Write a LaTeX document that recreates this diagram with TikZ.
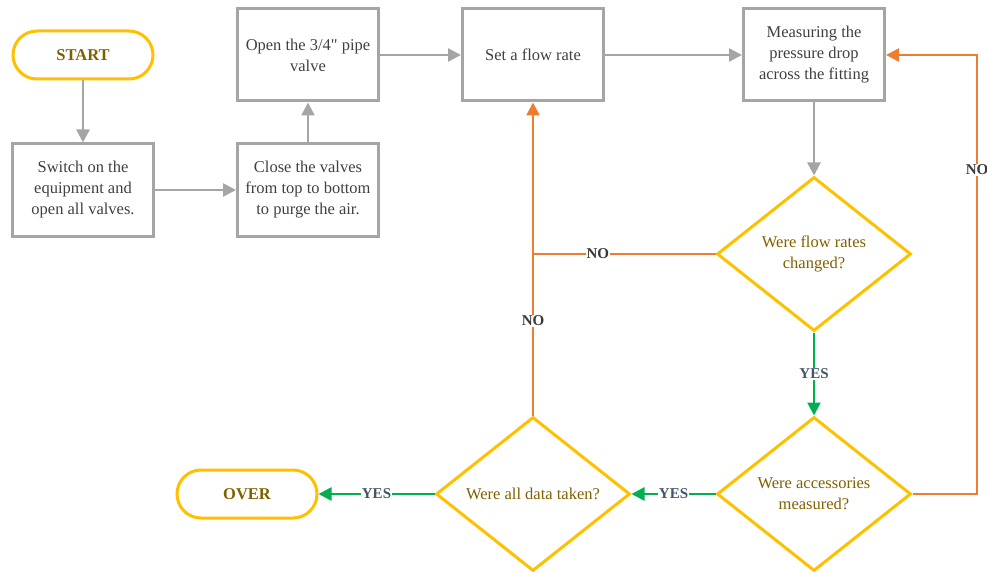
\documentclass[tikz,border=0pt]{standalone}
\usepackage{fontspec}
\setmainfont{Liberation Serif}
\newfontfamily\plainq{Liberation Serif}
\usetikzlibrary{shapes.geometric,arrows.meta}
\definecolor{boxgray}{HTML}{A5A5A5}
\definecolor{gold}{HTML}{FFC000}
\definecolor{orng}{HTML}{ED7D31}
\definecolor{grn}{HTML}{00B050}
\definecolor{boxtext}{HTML}{404040}
\definecolor{dtext}{HTML}{7F6000}
\definecolor{notext}{HTML}{3B3838}
\definecolor{yestext}{HTML}{44546A}
\tikzset{
  procbox/.style={draw=boxgray, line width=3pt, minimum width=141pt, minimum height=92pt,
    align=center, text=boxtext, font=\fontsize{16.5}{21}\selectfont, inner sep=2pt},
  termbox/.style={draw=gold, line width=3pt, minimum width=140pt, minimum height=48pt,
    rounded corners=24pt, text=dtext, font=\fontsize{16.5}{18}\selectfont\bfseries},
  decbox/.style={diamond, draw=gold, line width=3pt, minimum width=194pt, minimum height=154pt,
    inner sep=0pt, align=center, text=dtext, font=\fontsize{16.5}{21}\selectfont},
  arr/.style={-{Triangle[length=13pt,width=13pt]}},
  grayline/.style={draw=boxgray, line width=2.5pt},
  orline/.style={draw=orng, line width=2.5pt},
  gnline/.style={draw=grn, line width=2.5pt},
  lblno/.style={fill=white, inner sep=1pt, text=notext, font=\fontsize{15}{16}\selectfont\bfseries},
  lblyes/.style={fill=white, inner sep=1pt, text=yestext, font=\fontsize{15}{16}\selectfont\bfseries}
}
\begin{document}
\begin{tikzpicture}[x=1pt,y=-1pt]
\useasboundingbox (0,0) rectangle (987,572);
\node[termbox] (start) at (83,55) {START};
\node[procbox] (sw) at (83,190) {Switch on the\\equipment and\\open all valves.};
\node[procbox] (cl) at (308,190) {Close the valves\\from top to bottom\\to purge the air.};
\node[procbox] (op) at (308,55) {Open the 3/4{\plainq"} pipe\\valve};
\node[procbox] (setf) at (533,55) {Set a flow rate};
\node[procbox] (meas) at (814,55) {Measuring the\\pressure drop\\across the fitting};
\node[decbox] (d1) at (814,254) {Were flow rates\\changed?};
\node[decbox] (d2) at (814,494) {Were accessories\\measured?};
\node[decbox] (d3) at (533,494) {Were all data taken?};
\node[termbox] (over) at (247,494) {OVER};

\coordinate (j) at (setf.south |- d1.west);
\coordinate (c1) at (977,494);
\coordinate (c2) at (977,55);

\draw[grayline,arr] (start) -- (sw);
\draw[grayline,arr] (sw) -- (cl);
\draw[grayline,arr] (cl) -- (op);
\draw[grayline,arr] (op) -- (setf);
\draw[grayline,arr] (setf) -- (meas);
\draw[grayline,arr] (meas) -- (d1);

\draw[orline] (d3.north) -- node[pos=0.586,lblno]{NO} (j);
\draw[orline,arr] (d1.west) -- node[pos=0.645,lblno]{NO} (j) -- (setf.south);
\draw[orline,arr] (d2.east) -- (c1) -- node[pos=0.738,lblno]{NO} (c2) -- (meas.east);

\draw[gnline,arr] (d1.south) -- node[lblyes]{YES} (d2.north);
\draw[gnline,arr] (d2.west) -- node[lblyes]{YES} (d3.east);
\draw[gnline,arr] (d3.west) -- node[lblyes]{YES} (over.east);
\end{tikzpicture}
\end{document}
